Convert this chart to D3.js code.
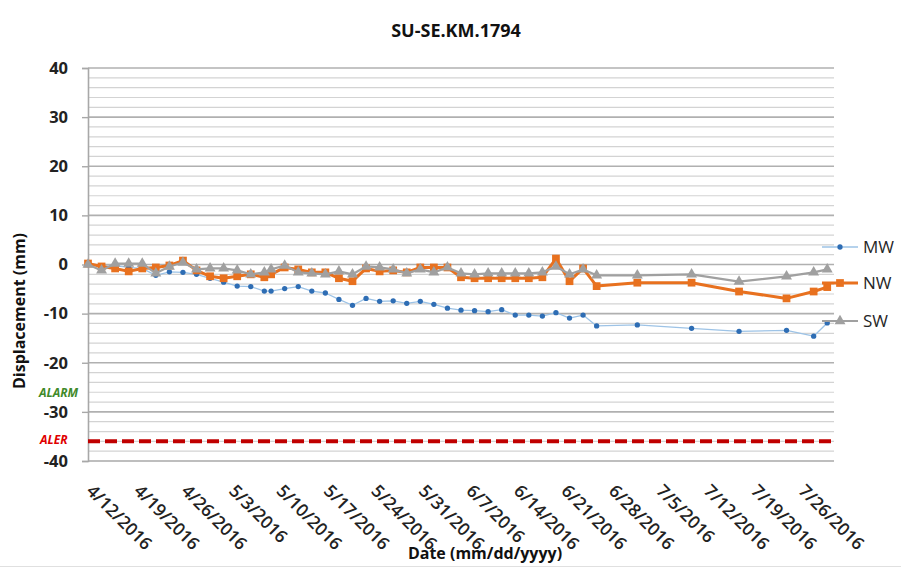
<!DOCTYPE html>
<html><head><meta charset="utf-8">
<script src="https://cdn.jsdelivr.net/npm/d3@7"></script>
<style>body{margin:0;background:#fff}svg{display:block}</style>
</head><body>
<svg id="chart" width="901" height="569"></svg>
<script>
const title = "SU-SE.KM.1794";
const dates = ["4/12","4/14","4/16","4/18","4/20","4/22","4/24","4/26","4/28","4/30","5/2","5/4","5/6","5/8","5/9","5/11","5/13","5/15","5/17","5/19","5/21","5/23","5/25","5/27","5/29","5/31","6/2","6/4","6/6","6/8","6/10","6/12","6/14","6/16","6/18","6/20","6/22","6/24","6/26","7/2","7/10","7/17","7/24","7/28","7/30"];
const MW = [0,-0.4,-0.2,-0.6,-0.8,-2.2,-1.5,-1.6,-2.0,-2.8,-3.6,-4.4,-4.5,-5.4,-5.4,-4.9,-4.5,-5.4,-5.8,-7.1,-8.3,-6.9,-7.5,-7.4,-7.9,-7.5,-8.1,-8.9,-9.3,-9.4,-9.6,-9.2,-10.3,-10.3,-10.5,-9.8,-10.9,-10.3,-12.5,-12.3,-13.0,-13.6,-13.4,-14.6,-11.9];
const NW = [0.2,-0.4,-0.8,-1.4,-0.8,-0.6,-0.2,0.8,-1.2,-2.4,-2.8,-2.4,-2.0,-2.6,-2.0,-0.6,-1.0,-1.6,-1.6,-2.8,-3.4,-0.8,-1.4,-1.2,-1.6,-0.6,-0.6,-0.6,-2.6,-2.8,-2.8,-2.8,-2.8,-2.8,-2.6,1.2,-3.4,-0.8,-4.4,-3.7,-3.7,-5.5,-6.9,-5.5,-4.6];
const SW = [0,-1.2,0.2,0.2,0.2,-1.8,-0.4,0.4,-1.0,-0.8,-0.8,-1.2,-2.0,-1.6,-1.0,-0.2,-1.6,-1.8,-2.0,-1.4,-2.0,-0.4,-0.6,-1.0,-1.8,-1.0,-1.6,-0.6,-1.8,-2.0,-1.8,-1.8,-1.8,-1.8,-1.6,-0.4,-2.0,-1.0,-2.2,-2.2,-2.0,-3.5,-2.4,-1.6,-1.0];
const seriesNames = ["MW","NW","SW"];
const xTickDates = ["4/12","4/19","4/26","5/3","5/10","5/17","5/24","5/31","6/7","6/14","6/21","6/28","7/5","7/12","7/19","7/26"];
const yTicks = [40,30,20,10,0,-10,-20,-30,-40];
const alertValue = -36;
const alarmLabel = "ALARM", alertLabel = "ALER";
const xTitle = "Date (mm/dd/yyyy)", yTitle = "Displacement (mm)";

const parse = s => { const [m,d] = s.split("/").map(Number); return new Date(2016, m-1, d); };
const svg = d3.select("#chart");
const F = "'Open Sans', sans-serif";
const x = d3.scaleTime().domain([parse("4/12"), parse("7/31")]).range([88, 834]);
const y = d3.scaleLinear().domain([-40, 40]).range([461, 68]);

// gridlines
const grid = d3.range(-38, 41, 2);
svg.append("g").selectAll("line").data(grid).join("line")
  .attr("x1", x.range()[0]).attr("x2", x.range()[1])
  .attr("y1", d => y(d)).attr("y2", d => y(d))
  .attr("stroke", d => d % 10 === 0 ? "#b0b0b0" : "#d3d3d3")
  .attr("stroke-width", d => d % 10 === 0 ? 1.6 : 1.2);
// bottom axis line
svg.append("line").attr("x1", 88).attr("x2", x.range()[1]).attr("y1", y(-40)).attr("y2", y(-40))
  .attr("stroke", "#a8a8a8").attr("stroke-width", 1.6);

// y axis
const yAxis = d3.axisLeft(y).tickValues(yTicks).tickSize(6).tickPadding(14).tickFormat(d3.format("d"));
const ya = svg.append("g").attr("transform", "translate(88,0)").call(yAxis);
ya.select(".domain").attr("stroke", "#a8a8a8").attr("stroke-width", 1.6);
ya.selectAll(".tick line").attr("stroke", "#a8a8a8").attr("stroke-width", 1.4);
ya.selectAll("text").attr("font-family", F).attr("font-weight", 700).attr("font-size", 16.5).attr("fill", "#222")
  .text(d => d < 0 ? "-" + Math.abs(d) : d);

// x tick labels
const xAxis = d3.axisBottom(x).tickValues(xTickDates.map(parse)).tickSize(0).tickFormat(d3.timeFormat("%-m/%-d/%Y"));
const xa = svg.append("g").attr("transform", `translate(0,${y(-40)})`).call(xAxis);
xa.select(".domain").remove();
xa.selectAll(".tick text")
  .attr("font-family", F).attr("font-size", 17.5).attr("font-weight", 600).attr("fill", "#222")
  .attr("text-anchor", "start").attr("dy", 0).attr("y", 0)
  .attr("transform", "translate(-3,31) rotate(45)");

// alert line
svg.append("line").attr("x1", 88).attr("x2", x.range()[1]).attr("y1", y(alertValue)).attr("y2", y(alertValue))
  .attr("stroke", "#c00000").attr("stroke-width", 4).attr("stroke-dasharray", "12,5");
svg.append("text").attr("x", 39).attr("y", y(-26) + 5).text(alarmLabel)
  .attr("font-family", F).attr("font-style", "italic").attr("font-weight", 700).attr("font-size", 12).attr("fill", "#3f8a2a");
svg.append("text").attr("x", 40).attr("y", y(alertValue) + 3).text(alertLabel)
  .attr("font-family", F).attr("font-style", "italic").attr("font-weight", 700).attr("font-size", 12).attr("fill", "#e00000");

// series
const pts = vals => dates.map((d,i) => ({d: parse(d), v: vals[i]}));
const line = d3.line().x(p => x(p.d)).y(p => y(p.v));
const styles = {
  MW: {stroke: "#9dc3e6", width: 1.3, fill: "#2e6db4", shape: "circle"},
  NW: {stroke: "#e8711f", width: 3, fill: "#e8711f", shape: "square"},
  SW: {stroke: "#a0a0a0", width: 2.2, fill: "#a0a0a0", shape: "triangle"}
};
const sym = {circle: d3.symbol(d3.symbolCircle, 22), square: d3.symbol(d3.symbolSquare, 60), triangle: d3.symbol(d3.symbolTriangle, 52)};
const data = {MW, NW, SW};
seriesNames.forEach(name => {
  const st = styles[name];
  const p = pts(data[name]);
  svg.append("path").datum(p).attr("d", line).attr("fill", "none")
    .attr("stroke", st.stroke).attr("stroke-width", st.width).attr("stroke-linejoin", "round");
  svg.append("g").selectAll("path").data(p).join("path")
    .attr("transform", q => `translate(${x(q.d)},${y(q.v)})`).attr("d", sym[st.shape]()).attr("fill", st.fill);
});

// legend
const legY = {MW: 247, NW: 283, SW: 321};
seriesNames.forEach(name => {
  const st = styles[name];
  const g = svg.append("g").attr("transform", `translate(0,${legY[name]})`);
  g.append("line").attr("x1", 822).attr("x2", 858).attr("stroke", st.stroke).attr("stroke-width", st.width);
  g.append("path").attr("transform", "translate(840,0)").attr("d", sym[st.shape]()).attr("fill", st.fill);
  g.append("text").attr("x", 863).attr("y", 6).text(name)
    .attr("font-family", F).attr("font-size", 17).attr("fill", "#262626");
});

// titles
svg.append("text").attr("x", 456).attr("y", 37).attr("text-anchor", "middle").text(title)
  .attr("font-family", F).attr("font-weight", 700).attr("font-size", 18).attr("fill", "#111");
svg.append("text").attr("transform", "translate(25,311) rotate(-90)").attr("text-anchor", "middle").text(yTitle)
  .attr("font-family", F).attr("font-weight", 700).attr("font-size", 16).attr("fill", "#111");
svg.append("text").attr("x", 485).attr("y", 559).attr("text-anchor", "middle").text(xTitle)
  .attr("font-family", F).attr("font-weight", 700).attr("font-size", 16).attr("fill", "#111");
svg.append("line").attr("x1", 0).attr("x2", 901).attr("y1", 566.5).attr("y2", 566.5).attr("stroke", "#e0e0e0");
</script>
</body></html>
